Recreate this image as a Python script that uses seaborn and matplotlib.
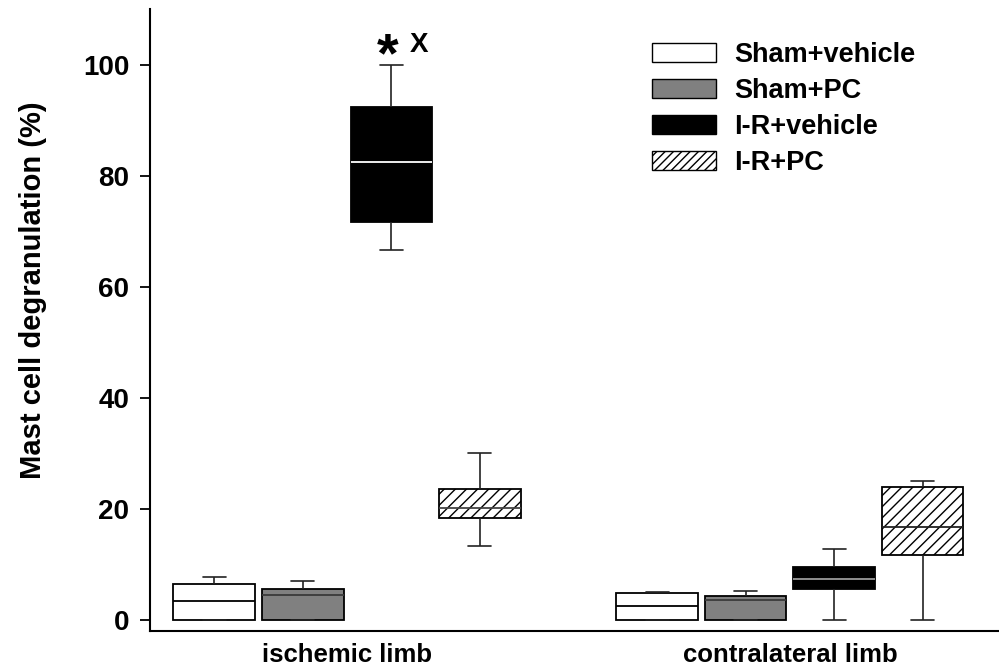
import numpy as np
import pandas as pd
import matplotlib
matplotlib.use("Agg")
import matplotlib.pyplot as plt
import seaborn as sns
from matplotlib.patches import Patch

# ---- data: five-number summaries [min, q1, median, q3, max] ----
limbs = ["ischemic limb", "contralateral limb"]
groups = ["Sham+vehicle", "Sham+PC", "I-R+vehicle", "I-R+PC"]

isch_sham_vehicle = [0.0, 0.0, 3.4, 6.4, 7.8]
isch_sham_pc = [0.0, 0.0, 4.5, 5.5, 7.1]
isch_ir_vehicle = [66.7, 71.7, 82.5, 92.5, 100.0]
isch_ir_pc = [13.4, 18.4, 20.1, 23.6, 30.1]

contra_sham_vehicle = [0.0, 0.0, 2.6, 4.9, 5.1]
contra_sham_pc = [0.0, 0.0, 3.6, 4.4, 5.2]
contra_ir_vehicle = [0.0, 5.5, 7.3, 9.6, 12.7]
contra_ir_pc = [0.0, 11.7, 16.8, 24.0, 25.1]

yticks = [0, 20, 40, 60, 80, 100]
ylabel = "Mast cell degranulation (%)"
annotation_star = "*"
annotation_x = "X"

series = {
    ("ischemic limb", "Sham+vehicle"): isch_sham_vehicle,
    ("ischemic limb", "Sham+PC"): isch_sham_pc,
    ("ischemic limb", "I-R+vehicle"): isch_ir_vehicle,
    ("ischemic limb", "I-R+PC"): isch_ir_pc,
    ("contralateral limb", "Sham+vehicle"): contra_sham_vehicle,
    ("contralateral limb", "Sham+PC"): contra_sham_pc,
    ("contralateral limb", "I-R+vehicle"): contra_ir_vehicle,
    ("contralateral limb", "I-R+PC"): contra_ir_pc,
}
rows = []
for (limb, grp), vals in series.items():
    for v in vals:
        rows.append({"limb": limb, "group": grp, "value": v})
df = pd.DataFrame(rows)

# ---- style ----
sns.set_theme(style="white")
plt.rcParams["font.family"] = ["Liberation Sans", "DejaVu Sans"]
plt.rcParams["font.weight"] = "bold"
plt.rcParams["hatch.linewidth"] = 1.0
for k in ["text.color", "axes.labelcolor", "xtick.color", "ytick.color"]:
    plt.rcParams[k] = "black"

colors = {"Sham+vehicle": "white", "Sham+PC": "#808080",
          "I-R+vehicle": "black", "I-R+PC": "white"}

fig = plt.figure(figsize=(9.99, 6.69), dpi=100)
ax = fig.add_axes([150 / 999, 1 - 630.5 / 669, 848 / 999, (630.5 - 9.4) / 669])

sns.boxplot(data=df, x="limb", y="value", hue="group", order=limbs,
            hue_order=groups, palette=colors, saturation=1, width=0.8,
            gap=0.08, whis=(0, 100), showfliers=False, linecolor="black",
            linewidth=1.3, legend=False, ax=ax)

median_colors = {
    "Sham+vehicle": ["black", "black"],
    "Sham+PC": ["#3a3a3a", "#3a3a3a"],
    "I-R+vehicle": ["white", "#9a9a9a"],
    "I-R+PC": ["#444444", "#222222"],
}
for grp, cont in zip(groups, ax.containers):
    for box in cont.boxes:
        box.set_edgecolor("black")
        box.set_linewidth(1.3)
        if grp == "I-R+PC":
            box.set_hatch("///")
    for i, med in enumerate(cont.medians):
        med.set_color(median_colors[grp][i])
        med.set_linewidth(1.3)
    for w in cont.whiskers:
        w.set_color("#222222")
        w.set_linewidth(1.2)
    for c in cont.caps:
        xd = np.asarray(c.get_xdata(), dtype=float)
        mid = xd.mean()
        c.set_xdata([mid - 0.026, mid + 0.026])
        c.set_color("#222222")
        c.set_linewidth(1.2)

ax.set_xlim(-0.445, 1.47)
ax.set_ylim(-1.9, 110)
ax.set_yticks(yticks)
ax.set_yticklabels([str(t) for t in yticks], fontsize=20, fontweight="bold")
ax.tick_params(axis="y", direction="out", length=7, width=1.3, pad=8, left=True)
ax.tick_params(axis="x", length=0, pad=9, labelsize=18.5)
for lab in ax.get_xticklabels():
    lab.set_fontweight("bold")
ax.set_xlabel("")
ax.set_ylabel(ylabel, fontsize=21, fontweight="bold")
ax.yaxis.set_label_coords(-0.122, 0.548)
for s in ["top", "right"]:
    ax.spines[s].set_visible(False)
for s in ["left", "bottom"]:
    ax.spines[s].set_color("black")
    ax.spines[s].set_linewidth(1.5)

# significance marks
ax.text(0.092, 101.3, annotation_star, ha="center", va="center", fontsize=40,
        fontweight="bold")
ax.text(0.162, 103.6, annotation_x, ha="center", va="center", fontsize=20,
        fontweight="bold")

handles = [Patch(facecolor=colors[g], edgecolor="black", linewidth=1.0,
                 hatch="////" if g == "I-R+PC" else None, label=g) for g in groups]
leg = fig.legend(handles=handles, loc="upper left",
                 bbox_to_anchor=(652 / 999, 1 - 42 / 669), frameon=False,
                 prop={"weight": "bold", "size": 19.5}, handlelength=2.37,
                 handleheight=0.67, handletextpad=0.67, labelspacing=0.37,
                 borderpad=0, borderaxespad=0)

fig.savefig("out.png", dpi=100)
